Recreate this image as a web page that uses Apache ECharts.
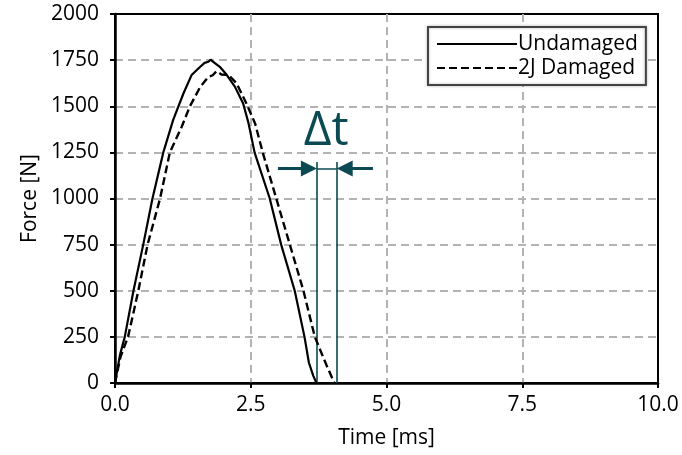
<!DOCTYPE html>
<html>
<head>
<meta charset="utf-8">
<script src="https://cdn.jsdelivr.net/npm/echarts@6/dist/echarts.min.js"></script>
<style>
  html, body { margin: 0; padding: 0; background: #fff; }
  #chart { width: 682px; height: 455px; }
</style>
</head>
<body>
<div id="chart"></div>
<script>
// time [ms] / force [N]
const timeUndamaged = [0, 0.09, 0.18, 0.34, 0.52, 0.69, 0.89, 1.07, 1.26, 1.41, 1.57, 1.65, 1.72, 1.76, 1.81, 1.93, 2.06, 2.21, 2.36, 2.46, 2.57, 2.85, 3.06, 3.31, 3.49, 3.57, 3.65, 3.71];
const forceUndamaged = [0, 150, 250, 500, 750, 1000, 1250, 1425, 1569, 1669, 1714, 1735, 1741, 1752, 1741, 1714, 1669, 1605, 1515, 1407, 1250, 1000, 750, 500, 250, 111, 40, 0];
const timeDamaged = [0, 0.10, 0.24, 0.43, 0.60, 0.83, 1.01, 1.12, 1.23, 1.38, 1.57, 1.72, 1.80, 1.87, 1.96, 2.09, 2.24, 2.42, 2.58, 2.72, 2.97, 3.22, 3.47, 3.68, 3.89, 4.04];
const forceDamaged = [0, 140, 250, 500, 750, 1000, 1250, 1320, 1390, 1500, 1605, 1659, 1668, 1690, 1672, 1670, 1624, 1515, 1407, 1250, 1000, 750, 500, 250, 100, 0];

const seriesNames = ['Undamaged', '2J Damaged'];
const xTicks = [0, 2.5, 5, 7.5, 10];
const yTicks = [0, 250, 500, 750, 1000, 1250, 1500, 1750, 2000];

// delta t annotation (data units)
const dtStart = 3.72;
const dtEnd = 4.08;
const dtLineTop = 1198;
const dtArrowLevel = 1163;
const dtArrowFromLeft = 3.0;
const dtArrowFromRight = 4.75;
const dtLabelPos = [3.89, 1365];

const teal = '#0b4a52';
const font = 'Open Sans';

const chart = echarts.init(document.getElementById('chart'));

function pairs(ts, fs) {
  return ts.map((t, i) => [t, fs[i]]);
}

const gridLine = { show: true, showMinLine: false, showMaxLine: false, lineStyle: { color: '#b3b3b3', width: 2, type: [8, 5] } };

const option = {
  animation: false,
  grid: {
    left: 115, right: 24, top: 14, bottom: 72,
    show: true, borderColor: '#000', borderWidth: 2
  },
  legend: {
    data: seriesNames,
    orient: 'vertical',
    left: 428, top: 27,
    padding: [6, 8, 6, 8],
    itemWidth: 80, itemHeight: 14, itemGap: 2,
    itemStyle: { opacity: 0 },
    backgroundColor: '#fff',
    borderColor: '#444', borderWidth: 2,
    shadowColor: 'rgba(0,0,0,0.25)', shadowBlur: 3,
    textStyle: { fontFamily: font, fontSize: 21, color: '#000', lineHeight: 22, padding: [0, 0, 0, -4] }
  },
  xAxis: {
    type: 'value', min: xTicks[0], max: xTicks[xTicks.length - 1], interval: 2.5,
    name: 'Time [ms]', nameLocation: 'middle', nameGap: 45,
    nameTextStyle: { fontFamily: font, fontSize: 21, color: '#000' },
    axisLine: { lineStyle: { color: '#000', width: 2.5 } },
    axisTick: { show: true, length: 5, lineStyle: { color: '#000', width: 2 } },
    axisLabel: { margin: 12, fontFamily: font, fontSize: 21, color: '#000', formatter: v => v.toFixed(1) },
    splitLine: gridLine
  },
  yAxis: {
    type: 'value', min: yTicks[0], max: yTicks[yTicks.length - 1], interval: 250,
    name: 'Force [N]', nameLocation: 'middle', nameGap: 74,
    nameTextStyle: { fontFamily: font, fontSize: 21, color: '#000' },
    axisLine: { show: true, lineStyle: { color: '#000', width: 2.5 } },
    axisTick: { show: true, length: 5, lineStyle: { color: '#000', width: 2 } },
    axisLabel: { margin: 16, fontFamily: font, fontSize: 21, color: '#000', formatter: v => String(v) },
    splitLine: gridLine
  },
  series: [
    {
      name: seriesNames[0], type: 'line', showSymbol: false, symbol: 'none',
      data: pairs(timeUndamaged, forceUndamaged),
      lineStyle: { color: '#000', width: 2.2 }, itemStyle: { color: '#000' }, z: 5
    },
    {
      name: seriesNames[1], type: 'line', showSymbol: false, symbol: 'none',
      data: pairs(timeDamaged, forceDamaged),
      lineStyle: { color: '#000', width: 2.4, type: [8, 4] }, itemStyle: { color: '#000' }, z: 5
    },
    {
      // vertical markers and link between them
      type: 'lines', coordinateSystem: 'cartesian2d', silent: true, z: 4,
      lineStyle: { color: teal, width: 1.6, opacity: 1 },
      symbol: 'none',
      data: [
        { coords: [[dtStart, 0], [dtStart, dtLineTop]] },
        { coords: [[dtEnd, 0], [dtEnd, dtLineTop]] },
        { coords: [[dtStart, dtArrowLevel], [dtEnd, dtArrowLevel]] }
      ]
    },
    {
      // arrows
      type: 'lines', coordinateSystem: 'cartesian2d', silent: true, z: 4,
      lineStyle: { color: teal, width: 3, opacity: 1 },
      symbol: ['none', 'triangle'], symbolSize: 16,
      data: [
        { coords: [[dtArrowFromLeft, dtArrowLevel], [dtStart - 0.15, dtArrowLevel]] },
        { coords: [[dtArrowFromRight, dtArrowLevel], [dtEnd + 0.15, dtArrowLevel]] }
      ]
    },
    {
      type: 'scatter', silent: true, symbolSize: 0, z: 6,
      itemStyle: { opacity: 1, color: teal },
      data: [dtLabelPos],
      label: { show: true, position: 'inside', formatter: 'Δt', fontFamily: font, fontSize: 48, color: teal, opacity: 1 }
    }
  ]
};

chart.setOption(option);
</script>
</body>
</html>
